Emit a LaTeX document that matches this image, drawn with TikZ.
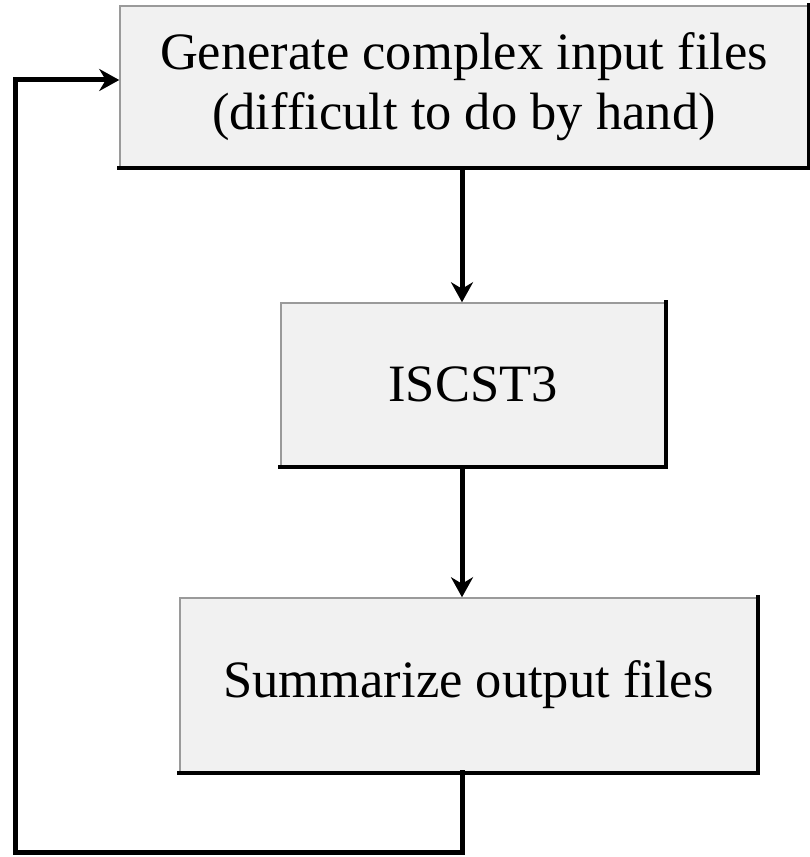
\documentclass[tikz,border=0pt]{standalone}
\usepackage{fontspec}
\setmainfont{Liberation Serif}
\usetikzlibrary{arrows.meta}
\definecolor{boxfill}{HTML}{F1F1F1}
\definecolor{boxedge}{HTML}{9A9A9A}
\tikzset{
  procbox/.style={rectangle, draw=boxedge, line width=1.5pt, fill=boxfill,
    inner sep=0pt, align=center, font=\fontsize{52.5}{60}\selectfont},
  shadowedge/.style={line width=4pt, black, line cap=rect},
  flow/.style={line width=5pt, black, -{Stealth[length=20pt,width=22pt]}},
  loopline/.style={line width=5pt, black, line cap=rect, line join=miter}
}
\begin{document}
\begin{tikzpicture}[x=1pt,y=1pt]
\useasboundingbox (0,0) rectangle (809,857);
\node[procbox, minimum width=688pt, minimum height=161pt] (gen) at (464,770.5)
  {Generate complex input files\\(difficult to do by hand)};
\node[procbox, minimum width=384pt, minimum height=163pt] (isc) at (473,472.5)
  {ISCST3};
\node[procbox, minimum width=577pt, minimum height=174pt] (sum) at (468.5,172)
  {Summarize output files};
\foreach \n in {gen,isc,sum}{
  \draw[shadowedge] (\n.south west) -- (\n.south east) -- (\n.north east);
}
\coordinate (ax) at (462,0);
\draw[flow] (ax |- gen.south) -- (ax |- isc.north);
\draw[flow] (ax |- isc.south) -- (ax |- sum.north);
\coordinate (lb) at (462,4);
\coordinate (ll) at (15,4);
\coordinate (lt) at (15,777);
\draw[loopline] (ax |- sum.south) -- (lb) -- (ll) -- (lt) -- ++(20,0);
\draw[flow] (lt) -- (lt -| gen.west);
\end{tikzpicture}
\end{document}
